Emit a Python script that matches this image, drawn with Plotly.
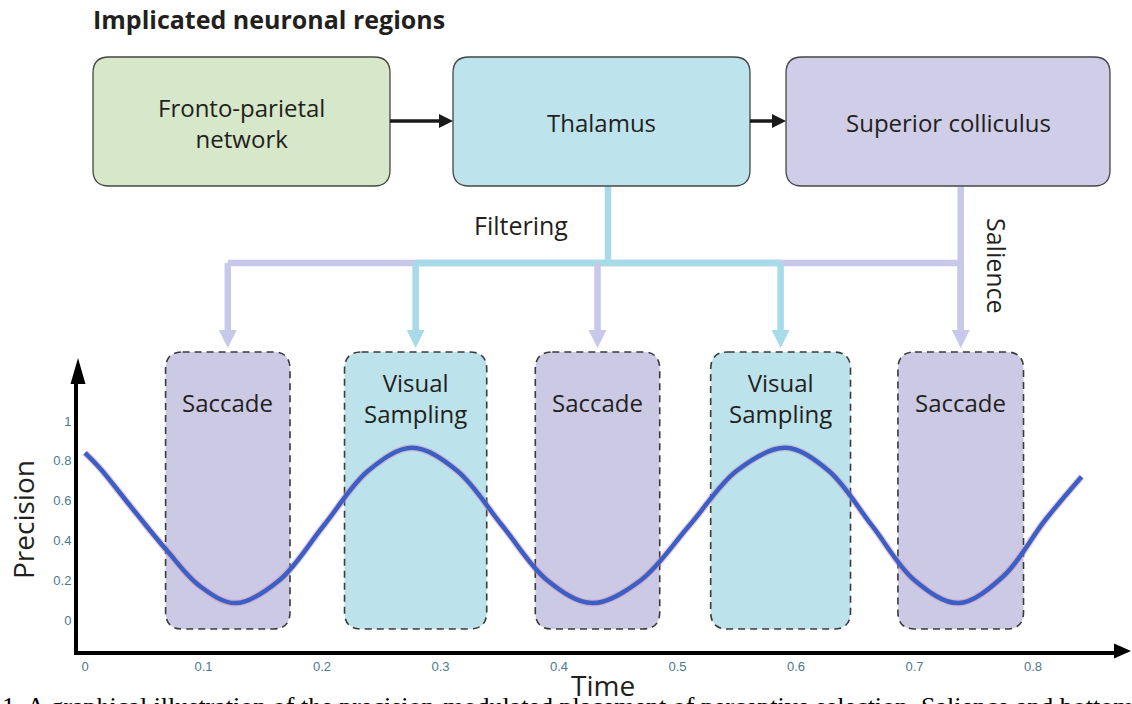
import plotly.graph_objects as go

# ---------------- data ----------------
time_s = [0.000, 0.013, 0.040, 0.069, 0.097, 0.127, 0.164, 0.2015, 0.239, 0.276,
          0.314, 0.352, 0.390, 0.428, 0.469, 0.510, 0.550, 0.591, 0.6275, 0.664,
          0.700, 0.737, 0.775, 0.810, 0.841]
precision = [0.84, 0.76, 0.56, 0.35, 0.17, 0.085, 0.20, 0.475, 0.75, 0.865,
             0.75, 0.475, 0.20, 0.085, 0.20, 0.475, 0.75, 0.865, 0.75, 0.475,
             0.20, 0.085, 0.22, 0.50, 0.72]

time_ticks = [0, 0.1, 0.2, 0.3, 0.4, 0.5, 0.6, 0.7, 0.8]
time_tick_text = ["0", "0.1", "0.2", "0.3", "0.4", "0.5", "0.6", "0.7", "0.8"]
prec_ticks = [0, 0.2, 0.4, 0.6, 0.8, 1.0]
prec_tick_text = ["0", "0.2", "0.4", "0.6", "0.8", "1"]

phase_names = ["Saccade", "Visual<br>Sampling", "Saccade", "Visual<br>Sampling", "Saccade"]
phase_type = ["saccade", "sampling", "saccade", "sampling", "saccade"]
phase_start = [0.068, 0.219, 0.380, 0.528, 0.686]
phase_end = [0.173, 0.339, 0.485, 0.646, 0.792]

region_names = ["Fronto-parietal<br>network", "Thalamus", "Superior colliculus"]
pathway_labels = ["Filtering", "Salience"]
title_text = "Implicated neuronal regions"
x_title = "Time"
y_title = "Precision"
caption_text = ("1. A graphical illustration of the precision-modulated placement of "
                "perceptive selection. Salience and bottom")

# ---------------- layout constants (pixels) ----------------
W, H = 1132, 704
AX_LEFT, AX_RIGHT, AX_BOTTOM, AX_TOP = 78, 1118, 651, 380
T0_PX, PX_PER_T = 85, 1185.0
V0_PX, PX_PER_V = 620, 199.0

X_RANGE = [(AX_LEFT - T0_PX) / PX_PER_T, (AX_RIGHT - T0_PX) / PX_PER_T]
Y_RANGE = [(V0_PX - AX_BOTTOM) / PX_PER_V, (V0_PX - AX_TOP) / PX_PER_V]

TXT = "#231f20"
FONT = "Open Sans"
LAV_FILL = "#cfcde7"
CYAN_FILL = "#bde4ec"
GREEN_FILL = "#d6e8c9"
LAV_LINE = "#c8c8ea"
CYAN_LINE = "#a8dbe8"
SAC_FILL = "#ccc9e5"
VS_FILL = "#bce3eb"


def px_x(p):
    return p / W


def px_y(p):
    return 1 - p / H


def rrect_paper(x0, y0, x1, y1, r):
    rx, ry = r / W, r / H
    X0, X1 = px_x(x0), px_x(x1)
    Y0, Y1 = px_y(y0), px_y(y1)
    return (f"M {X0+rx},{Y0} L {X1-rx},{Y0} Q {X1},{Y0} {X1},{Y0-ry} "
            f"L {X1},{Y1+ry} Q {X1},{Y1} {X1-rx},{Y1} L {X0+rx},{Y1} "
            f"Q {X0},{Y1} {X0},{Y1+ry} L {X0},{Y0-ry} Q {X0},{Y0} {X0+rx},{Y0} Z")


def rrect_time(t0, t1, y0, y1, r):
    rx, ry = r / PX_PER_T, r / H
    Y0, Y1 = px_y(y0), px_y(y1)
    return (f"M {t0+rx},{Y0} L {t1-rx},{Y0} Q {t1},{Y0} {t1},{Y0-ry} "
            f"L {t1},{Y1+ry} Q {t1},{Y1} {t1-rx},{Y1} L {t0+rx},{Y1} "
            f"Q {t0},{Y1} {t0},{Y1+ry} L {t0},{Y0-ry} Q {t0},{Y0} {t0+rx},{Y0} Z")


def label(x, y, text, size, xref="paper", **kw):
    d = dict(x=x, y=y, xref=xref, yref="paper", text=text, showarrow=False,
             xanchor="center", yanchor="middle",
             font=dict(family=FONT, size=size, color=TXT))
    d.update(kw)
    return d


shapes = []
annotations = []

# ---- top region boxes ----
region_boxes = [(93, 57, 390, 186, GREEN_FILL), (453, 57, 750, 186, CYAN_FILL),
                (786, 57, 1110, 186, LAV_FILL)]
for (x0, y0, x1, y1, fc), name in zip(region_boxes, region_names):
    shapes.append(dict(type="path", xref="paper", yref="paper",
                       path=rrect_paper(x0, y0, x1, y1, 16),
                       fillcolor=fc, line=dict(color="#454545", width=1.3), layer="below"))
    annotations.append(label(px_x((x0 + x1) / 2), px_y(123), name, 24))

# black arrows between regions
for xa, xb in [(390, 453), (750, 786)]:
    yy = 121
    shapes.append(dict(type="line", xref="paper", yref="paper",
                       x0=px_x(xa), x1=px_x(xb - 12), y0=px_y(yy), y1=px_y(yy),
                       line=dict(color="#1a1a1a", width=3.5)))
    shapes.append(dict(type="path", xref="paper", yref="paper",
                       path=(f"M {px_x(xb-14)},{px_y(yy-7)} L {px_x(xb)},{px_y(yy)} "
                             f"L {px_x(xb-14)},{px_y(yy+7)} Z"),
                       fillcolor="#1a1a1a", line=dict(width=0)))

# ---- connectors ----
centers = [(a + b) / 2 for a, b in zip(phase_start, phase_end)]
Y_BUS = 263
Y_ARROW_BASE, Y_ARROW_TIP = 330, 348
LW = 6.5

shapes.append(dict(type="line", xref="x", yref="paper", x0=centers[0], x1=centers[-1],
                   y0=px_y(Y_BUS), y1=px_y(Y_BUS), line=dict(color=LAV_LINE, width=LW)))
shapes.append(dict(type="line", xref="x", yref="paper", x0=centers[-1], x1=centers[-1],
                   y0=px_y(187), y1=px_y(Y_ARROW_BASE), line=dict(color=LAV_LINE, width=LW)))
samp_c = [c for c, k in zip(centers, phase_type) if k == "sampling"]
shapes.append(dict(type="line", xref="x", yref="paper", x0=min(samp_c), x1=max(samp_c),
                   y0=px_y(Y_BUS), y1=px_y(Y_BUS), line=dict(color=CYAN_LINE, width=LW)))
shapes.append(dict(type="line", xref="paper", yref="paper", x0=px_x(608), x1=px_x(608),
                   y0=px_y(187), y1=px_y(Y_BUS), line=dict(color=CYAN_LINE, width=LW)))

for c, k in zip(centers, phase_type):
    col = LAV_LINE if k == "saccade" else CYAN_LINE
    shapes.append(dict(type="line", xref="x", yref="paper", x0=c, x1=c,
                       y0=px_y(Y_BUS), y1=px_y(Y_ARROW_BASE + 2), line=dict(color=col, width=LW)))
    hw = 9 / PX_PER_T
    shapes.append(dict(type="path", xref="x", yref="paper",
                       path=(f"M {c-hw},{px_y(Y_ARROW_BASE)} L {c+hw},{px_y(Y_ARROW_BASE)} "
                             f"L {c},{px_y(Y_ARROW_TIP)} Z"),
                       fillcolor=col, line=dict(width=0)))

annotations.append(label(px_x(521), px_y(225), pathway_labels[0], 25))
annotations.append(label(px_x(997), px_y(266), pathway_labels[1], 25, textangle=90))

# ---- phase windows ----
for t0, t1, k, name in zip(phase_start, phase_end, phase_type, phase_names):
    fc = SAC_FILL if k == "saccade" else VS_FILL
    shapes.append(dict(type="path", xref="x", yref="paper",
                       path=rrect_time(t0, t1, 352, 629, 17),
                       fillcolor=fc, line=dict(color="#3a3a3a", width=1.6, dash="7px,5px"),
                       layer="below"))
    annotations.append(label((t0 + t1) / 2, px_y(402 if k == "saccade" else 398), name, 24,
                             xref="x"))

# axis arrowheads
shapes.append(dict(type="path", xref="paper", yref="paper",
                   path=(f"M {px_x(AX_LEFT-7.5)},{px_y(AX_TOP+4)} L {px_x(AX_LEFT)},{px_y(AX_TOP-22)} "
                         f"L {px_x(AX_LEFT+7.5)},{px_y(AX_TOP+4)} Z"),
                   fillcolor="#000", line=dict(width=0)))
shapes.append(dict(type="path", xref="paper", yref="paper",
                   path=(f"M {px_x(AX_RIGHT-4)},{px_y(AX_BOTTOM-7.5)} L {px_x(AX_RIGHT+13)},{px_y(AX_BOTTOM)} "
                         f"L {px_x(AX_RIGHT-4)},{px_y(AX_BOTTOM+7.5)} Z"),
                   fillcolor="#000", line=dict(width=0)))

# titles
annotations.append(label(px_x(91), px_y(19), f"<b>{title_text}</b>", 25, xanchor="left"))
annotations.append(label(px_x(23), px_y(520), y_title, 28, textangle=-90))
annotations.append(label(px_x(603), px_y(685), x_title, 28))
annotations.append(dict(x=px_x(0), y=px_y(690), xref="paper", yref="paper",
                        text=caption_text, showarrow=False, xanchor="left", yanchor="top",
                        font=dict(family="Liberation Serif", size=26, color="#000")))

fig = go.Figure()
fig.add_trace(go.Scatter(x=time_s, y=precision, mode="lines",
                         line=dict(color="rgba(215,140,175,0.45)", width=7, shape="spline"),
                         hoverinfo="skip", showlegend=False))
fig.add_trace(go.Scatter(x=time_s, y=precision, mode="lines",
                         line=dict(color="#3a60c6", width=4.5, shape="spline"),
                         showlegend=False))

tickfont = dict(family="Liberation Sans", size=13, color="#4b7a8c")
fig.update_layout(
    width=W, height=H, autosize=False,
    margin=dict(l=0, r=0, t=0, b=0, pad=0),
    paper_bgcolor="white", plot_bgcolor="rgba(0,0,0,0)",
    showlegend=False,
    xaxis=dict(domain=[AX_LEFT / W, AX_RIGHT / W], range=X_RANGE, showgrid=False,
               zeroline=False, showline=True, linecolor="#000", linewidth=4,
               tickvals=time_ticks, ticktext=time_tick_text, ticks="",
               tickfont=tickfont, fixedrange=True),
    yaxis=dict(domain=[1 - AX_BOTTOM / H, 1 - AX_TOP / H], range=Y_RANGE, showgrid=False,
               zeroline=False, showline=True, linecolor="#000", linewidth=4,
               tickvals=prec_ticks, ticktext=prec_tick_text, ticks="",
               tickfont=tickfont, fixedrange=True),
    shapes=shapes,
    annotations=annotations,
)

fig.write_html("out.html",
               config={"displayModeBar": False},
               post_script="document.body.style.margin='0px';"
                           "document.body.style.overflow='hidden';")
